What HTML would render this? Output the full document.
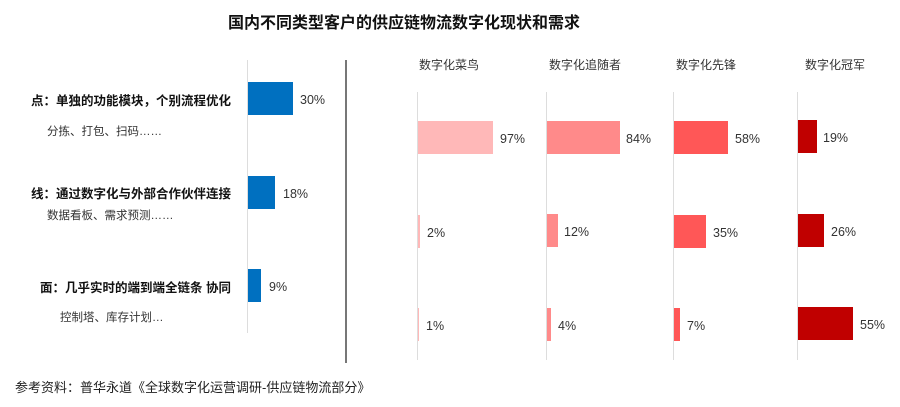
<!DOCTYPE html>
<html><head><meta charset="utf-8"><style>
body{margin:0;width:900px;height:407px;background:#fff;position:relative;overflow:hidden;font-family:"Liberation Sans","Noto Sans CJK SC",sans-serif;color:#222}
.a{position:absolute;white-space:nowrap}
.b{position:absolute}
.t{font-size:12.5px;color:#333;margin-top:2px}
.h{font-size:12px;color:#333}
.l{font-size:12.5px;font-weight:bold;color:#111}
.s{font-size:11.5px;color:#333}
</style></head><body>
<div class="a" style="left:228px;top:9px;font-size:16px;font-weight:bold;color:#111">国内不同类型客户的供应链物流数字化现状和需求</div>

<div class="a l" style="right:669px;top:90px">点：单独的功能模块，个别流程优化</div>
<div class="a s" style="left:47px;top:123px">分拣、打包、扫码……</div>
<div class="a l" style="right:669px;top:183px">线：通过数字化与外部合作伙伴连接</div>
<div class="a s" style="left:47px;top:207px">数据看板、需求预测……</div>
<div class="a l" style="right:669px;top:277px">面：几乎实时的端到端全链条 协同</div>
<div class="a s" style="left:60px;top:309px">控制塔、库存计划…</div>

<div class="b" style="left:247px;top:60px;width:1px;height:273px;background:#ddd"></div>
<div class="b" style="left:248px;top:82px;width:45px;height:33px;background:#0070c0"></div>
<div class="a t" style="left:300px;top:91px">30%</div>
<div class="b" style="left:248px;top:176px;width:27px;height:33px;background:#0070c0"></div>
<div class="a t" style="left:283px;top:185px">18%</div>
<div class="b" style="left:248px;top:269px;width:13px;height:33px;background:#0070c0"></div>
<div class="a t" style="left:269px;top:278px">9%</div>

<div class="b" style="left:345px;top:60px;width:2px;height:303px;background:#777"></div>

<div class="a h" style="left:419px;top:56px">数字化菜鸟</div>
<div class="a h" style="left:549px;top:56px">数字化追随者</div>
<div class="a h" style="left:676px;top:56px">数字化先锋</div>
<div class="a h" style="left:805px;top:56px">数字化冠军</div>

<div class="b" style="left:417px;top:92px;width:1px;height:268px;background:#ddd"></div>
<div class="b" style="left:546px;top:92px;width:1px;height:268px;background:#ddd"></div>
<div class="b" style="left:673px;top:92px;width:1px;height:268px;background:#ddd"></div>
<div class="b" style="left:797px;top:92px;width:1px;height:268px;background:#ddd"></div>

<div class="b" style="left:418px;top:121px;width:75px;height:33px;background:#ffb8b8"></div>
<div class="a t" style="left:500px;top:130px">97%</div>
<div class="b" style="left:418px;top:215px;width:2px;height:33px;background:#ffb8b8"></div>
<div class="a t" style="left:427px;top:224px">2%</div>
<div class="b" style="left:418px;top:308px;width:1px;height:33px;background:#ffb8b8"></div>
<div class="a t" style="left:426px;top:317px">1%</div>

<div class="b" style="left:547px;top:121px;width:73px;height:33px;background:#ff8a8a"></div>
<div class="a t" style="left:626px;top:130px">84%</div>
<div class="b" style="left:547px;top:214px;width:11px;height:33px;background:#ff8a8a"></div>
<div class="a t" style="left:564px;top:223px">12%</div>
<div class="b" style="left:547px;top:308px;width:4px;height:33px;background:#ff8a8a"></div>
<div class="a t" style="left:558px;top:317px">4%</div>

<div class="b" style="left:674px;top:121px;width:54px;height:33px;background:#ff5757"></div>
<div class="a t" style="left:735px;top:130px">58%</div>
<div class="b" style="left:674px;top:215px;width:32px;height:33px;background:#ff5757"></div>
<div class="a t" style="left:713px;top:224px">35%</div>
<div class="b" style="left:674px;top:308px;width:6px;height:33px;background:#ff5757"></div>
<div class="a t" style="left:687px;top:317px">7%</div>

<div class="b" style="left:798px;top:120px;width:19px;height:33px;background:#c00000"></div>
<div class="a t" style="left:823px;top:129px">19%</div>
<div class="b" style="left:798px;top:214px;width:26px;height:33px;background:#c00000"></div>
<div class="a t" style="left:831px;top:223px">26%</div>
<div class="b" style="left:798px;top:307px;width:55px;height:33px;background:#c00000"></div>
<div class="a t" style="left:860px;top:316px">55%</div>

<div class="a" style="left:15px;top:377px;font-size:13px;color:#222">参考资料：普华永道《全球数字化运营调研-供应链物流部分》</div>
</body></html>
